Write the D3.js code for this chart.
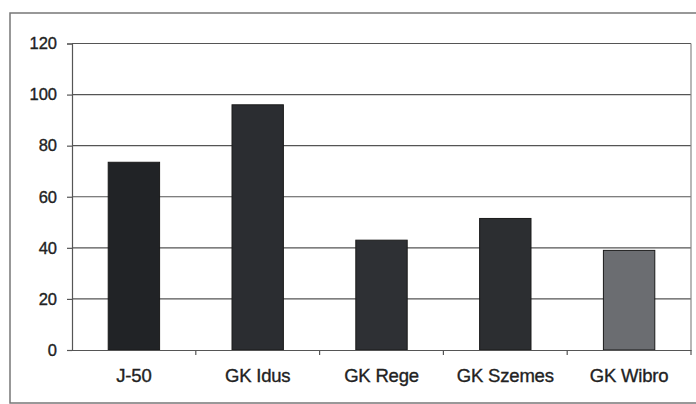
<!DOCTYPE html>
<html><head><meta charset="utf-8">
<script src="https://cdn.jsdelivr.net/npm/d3@7"></script>
<style>html,body{margin:0;padding:0;background:#fff;}svg{display:block;}</style>
</head><body>
<svg id="c" width="696" height="404"></svg>
<script>
const categories = ["J-50", "GK Idus", "GK Rege", "GK Szemes", "GK Wibro"];
const values = [73.5, 96, 43, 51.5, 39];
const barColors = ["#212326", "#2b2d31", "#2e3034", "#2c2e31", "#6b6d71"];
const yTicks = [0, 20, 40, 60, 80, 100, 120];

const svg = d3.select("#c");
const L = 72, R = 691, T = 43.5, B = 350;

// outer frame
svg.append("rect").attr("x", 10).attr("y", 13).attr("width", 700).attr("height", 390)
  .attr("fill", "none").attr("stroke", "#777").attr("stroke-width", 1.5);

const x = d3.scaleBand().domain(categories).range([L, R]).paddingInner(0.585).paddingOuter(0.2925);
const xs = d3.scaleBand().domain(categories).range([L, R]).padding(0);
const y = d3.scaleLinear().domain([0, 120]).range([B, T]);

// gridlines
svg.append("g").selectAll("line").data(yTicks.filter(d => d > 0)).join("line")
  .attr("x1", L).attr("x2", R).attr("y1", d => y(d)).attr("y2", d => y(d))
  .attr("stroke", "#555").attr("stroke-width", 1.2);

// right border
svg.append("line").attr("x1", R).attr("x2", R).attr("y1", T).attr("y2", B)
  .attr("stroke", "#888").attr("stroke-width", 1.2);

// bars
svg.append("g").selectAll("rect").data(values).join("rect")
  .attr("x", (d, i) => x(categories[i]))
  .attr("width", x.bandwidth())
  .attr("y", d => y(d))
  .attr("height", d => B - y(d))
  .attr("fill", (d, i) => barColors[i])
  .attr("stroke", "#1a1a1a").attr("stroke-width", 1);

// y axis
const yAxis = d3.axisLeft(y).tickValues(yTicks).tickSize(5).tickPadding(10);
const gy = svg.append("g").attr("transform", `translate(${L},0)`).call(yAxis);
gy.select(".domain").attr("stroke", "#555").attr("stroke-width", 1.2);
gy.selectAll(".tick line").attr("stroke", "#555").attr("stroke-width", 1.2);
gy.selectAll("text").attr("font-family", "Liberation Sans, Arial, sans-serif")
  .attr("font-size", 16.5).attr("fill", "#222").attr("stroke", "#222").attr("stroke-width", 0.35);

// x axis
const gx = svg.append("g").attr("transform", `translate(0,${B})`)
  .call(d3.axisBottom(xs).tickSize(0).tickPadding(19));
gx.select(".domain").attr("stroke", "#555").attr("stroke-width", 1.2);
gx.selectAll("text").attr("font-family", "Liberation Sans, Arial, sans-serif")
  .attr("font-size", 18.5).attr("fill", "#222").attr("stroke", "#222").attr("stroke-width", 0.35)
  .attr("letter-spacing", "-0.2px");
// category separator ticks
svg.append("g").selectAll("line").data(categories).join("line")
  .attr("x1", d => xs(d) + xs.step()).attr("x2", d => xs(d) + xs.step())
  .attr("y1", B).attr("y2", B + 5).attr("stroke", "#555").attr("stroke-width", 1.2);
</script>
</body></html>
